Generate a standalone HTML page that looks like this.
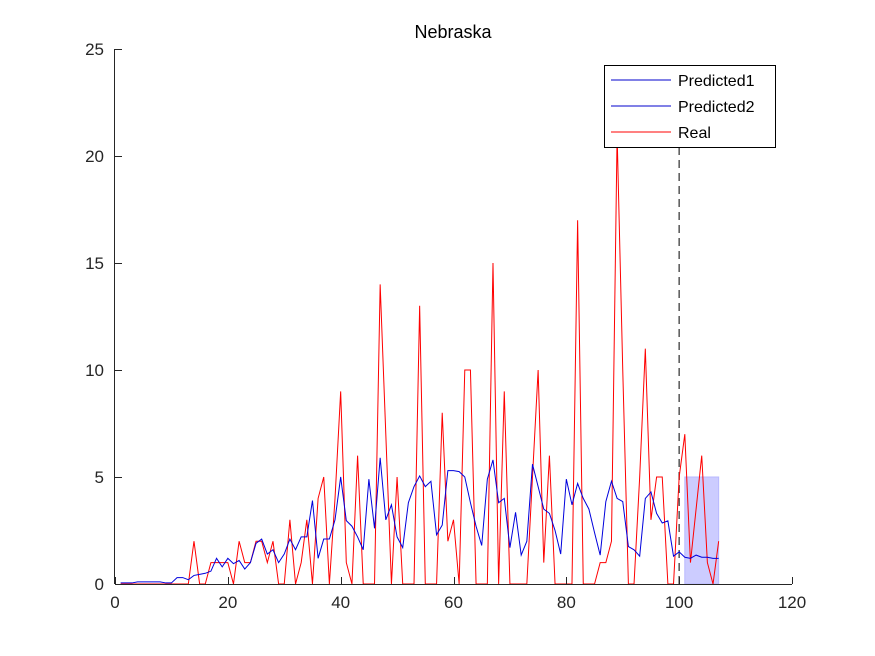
<!DOCTYPE html>
<html><head><meta charset="utf-8"><style>
body{margin:0;background:#fff;}
svg{display:block;font-family:"Liberation Sans",Arial,sans-serif;}
</style></head><body>
<svg id="chart" width="875" height="656" viewBox="0 0 875 656" xmlns="http://www.w3.org/2000/svg">
<rect width="875" height="656" fill="#fff"/>
<text x="453" y="38" text-anchor="middle" font-size="18" fill="#000">Nebraska</text>
<g id="shade"></g>
<g id="plot"></g>
<g id="axes"></g>
<g id="legend">
<rect x="604.5" y="65.5" width="171" height="82" fill="#fff" stroke="#000" stroke-width="1"/>
<line x1="611" y1="80" x2="671" y2="80" stroke="#0000cc" stroke-width="1"/>
<text x="678" y="86" font-size="16">Predicted1</text>
<line x1="611" y1="106" x2="671" y2="106" stroke="#0000cc" stroke-width="1"/>
<text x="678" y="112" font-size="16">Predicted2</text>
<line x1="611" y1="132" x2="671" y2="132" stroke="#ff0000" stroke-width="1"/>
<text x="678" y="138" font-size="16">Real</text>
</g>
</svg>
<script>
const xTicks=[0,20,40,60,80,100,120];
const yTicks=[0,5,10,15,20,25];
const realValues=[0,0,0,0,0,0,0,0,0,0,0,0,0,2,0,0,1,1,1,1,0,2,1,1,2,2,1,2,0,0,3,0,1,3,0,4,5,0,4,9,1,0,6,0,0,0,14,7,0,5,0,0,0,13,0,0,0,8,2,3,0,10,10,0,0,0,15,0,9,0,0,0,0,5,10,1,6,0,0,0,0,17,0,0,0,1,1,2,21,10,0,0,5,11,3,5,5,0,0,5,7,1,3.5,6,1,0,2];
const predValues=[0.05,0.05,0.05,0.1,0.1,0.1,0.1,0.1,0.05,0.05,0.3,0.3,0.2,0.4,0.45,0.5,0.6,1.2,0.8,1.2,0.95,1.1,0.7,1.0,1.9,2.1,1.4,1.6,1.0,1.4,2.1,1.6,2.2,2.2,3.9,1.2,2.1,2.1,3.0,5.0,2.96,2.7,2.2,1.6,4.9,2.6,5.9,3.0,3.7,2.2,1.7,3.8,4.55,5.05,4.55,4.8,2.3,2.75,5.3,5.3,5.25,5.0,3.8,2.7,1.8,4.9,5.8,3.8,4.0,1.7,3.35,1.35,2.0,5.6,4.55,3.5,3.3,2.5,1.4,4.9,3.7,4.7,4.0,3.5,2.4,1.35,3.85,4.8,4.0,3.85,1.75,1.6,1.3,4.0,4.3,3.3,2.85,2.95,1.3,1.5,1.25,1.2,1.35,1.25,1.25,1.2,1.2];
const forecastStart=[100];
const forecastLineTop=[20.5];
const bandRange=[101,107];
const bandValues=[0,5];

const X0=115,X1=792,Y0=584,Y1=49;
function sx(v){return X0+(v-0)/(120-0)*(X1-X0);}
function sy(v){return Y0-(v-0)/(25-0)*(Y0-Y1);}
const NS='http://www.w3.org/2000/svg';
function mk(tag,attrs,parent){const e=document.createElementNS(NS,tag);for(const k in attrs)e.setAttribute(k,attrs[k]);parent.appendChild(e);return e;}

const shade=document.getElementById('shade');
const band=mk('rect',{x:sx(bandRange[0]),y:sy(bandValues[1]),width:sx(bandRange[1])-sx(bandRange[0]),height:sy(bandValues[0])-sy(bandValues[1]),fill:'#ccccff',stroke:'#b8b8ff'},shade);



const plot=document.getElementById('plot');
const vline=mk('line',{x1:sx(forecastStart[0]),x2:sx(forecastStart[0]),y1:sy(0),y2:sy(forecastLineTop[0]),stroke:'#555','stroke-width':1.5,'stroke-dasharray':'8,5'},plot);



function path(vals){return vals.map((v,i)=>(i?'L':'M')+sx(i+1).toFixed(2)+','+sy(v).toFixed(2)).join(' ');}
const realLine=mk('path',{d:path(realValues),fill:'none',stroke:'#ff0000','stroke-width':1},plot);


const predLine=mk('path',{d:path(predValues),fill:'none',stroke:'#0000dd','stroke-width':1},plot);



const axes=document.getElementById('axes');
const xa=mk('line',{x1:X0,x2:X1,y1:Y0+0.5,y2:Y0+0.5,stroke:'#262626','stroke-width':1},axes);


const ya=mk('line',{x1:X0-0.5,x2:X0-0.5,y1:Y1,y2:Y0,stroke:'#262626','stroke-width':1},axes);


xTicks.forEach(t=>{
  const x=Math.round(sx(t))+0.5;
  const tk=mk('line',{x1:x,x2:x,y1:Y0,y2:Y0-7,stroke:'#262626'},axes);
  
  
  const tx=mk('text',{x:sx(t),y:Y0+24,'text-anchor':'middle','font-size':17,fill:'#262626'},axes);
  tx.textContent=t;
  
  
});
yTicks.forEach(t=>{
  const y=Math.round(sy(t))+0.5;
  const tk=mk('line',{x1:X0,x2:X0+7,y1:y,y2:y,stroke:'#262626'},axes);
  
  
  const tx=mk('text',{x:X0-11,y:sy(t)+6,'text-anchor':'end','font-size':17,fill:'#262626'},axes);
  tx.textContent=t;
  
  
});
</script>
</body></html>
